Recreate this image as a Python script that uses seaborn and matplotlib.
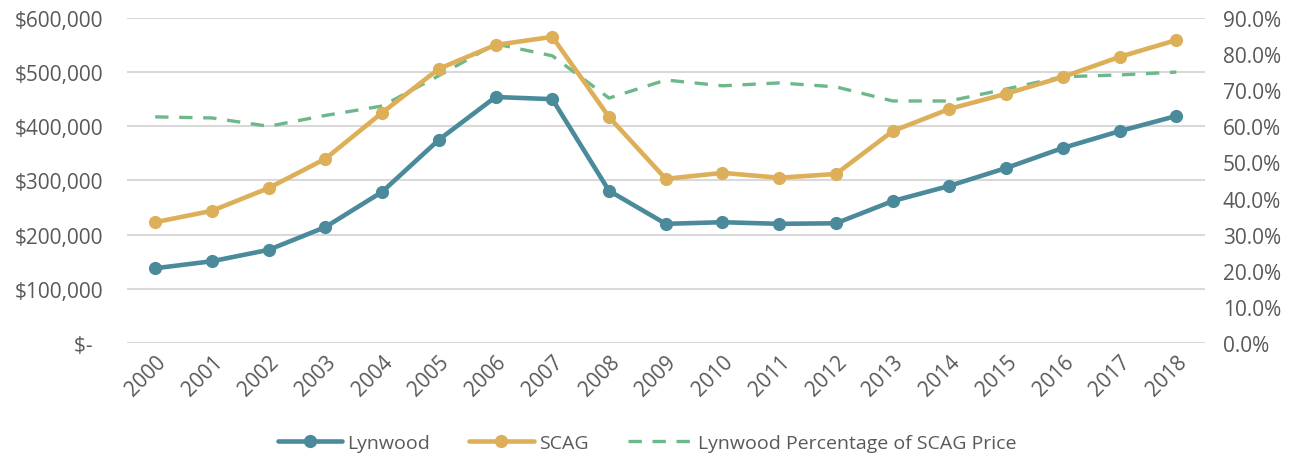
import numpy as np
import pandas as pd
import seaborn as sns
import matplotlib.pyplot as plt
from matplotlib.ticker import FuncFormatter

years = list(range(2000, 2019))
lynwood = [138000, 151000, 172000, 214000, 279000, 375000, 454000, 450000, 281000, 220000,
           223000, 220000, 221000, 262000, 290000, 323000, 360000, 391000, 419000]
scag = [223000, 244000, 286000, 340000, 425000, 506000, 550000, 565000, 417000, 303000,
        314000, 305000, 312000, 391000, 432000, 460000, 491000, 528000, 559000]
pct = [0.626, 0.623, 0.600, 0.630, 0.656, 0.740, 0.828, 0.795, 0.678, 0.728,
       0.712, 0.720, 0.709, 0.670, 0.670, 0.703, 0.737, 0.742, 0.750]

df = pd.DataFrame({"Year": years, "Lynwood": lynwood, "SCAG": scag, "Pct": pct})

sns.set_style("white")
plt.rcParams['font.family'] = ['Open Sans', 'DejaVu Sans']
txt = "#595959"

fig = plt.figure(figsize=(12.94, 4.6), dpi=100)
ax2 = fig.add_axes([0.098, 0.252, 0.833, 0.707])
ax = ax2.twinx()  # left $ axis drawn on top
ax.yaxis.tick_left()
ax2.yaxis.tick_right()

sns.lineplot(data=df, x="Year", y="Pct", ax=ax2, color="#6DB88A", linewidth=2.4,
             linestyle=(0, (4, 3.2)), label="Lynwood Percentage of SCAG Price", legend=False)
sns.lineplot(data=df, x="Year", y="Lynwood", ax=ax, color="#4A8A9A", linewidth=3.3,
             marker="o", markersize=9.5, markeredgewidth=0, label="Lynwood", legend=False)
sns.lineplot(data=df, x="Year", y="SCAG", ax=ax, color="#DDAF58", linewidth=3.3,
             marker="o", markersize=9.5, markeredgewidth=0, label="SCAG", legend=False)

ax.patch.set_visible(False)

ax2.set_xlim(1999.5, 2018.5)
ax.set_ylim(0, 600000)
ax.set_yticks(np.arange(0, 600001, 100000))
ax.yaxis.set_major_formatter(FuncFormatter(lambda v, p: "$-  " if v == 0 else f"${v:,.0f}"))
ax2.set_ylim(0, 0.9)
ax2.set_yticks(np.arange(0, 0.91, 0.1))
ax2.yaxis.set_major_formatter(FuncFormatter(lambda v, p: f"{v * 100:.1f}%"))

ax2.set_xticks(years)
ax2.set_xticklabels([str(y) for y in years], rotation=45, ha="right", rotation_mode="anchor")
for a in (ax, ax2):
    a.set_xlabel("")
    a.set_ylabel("")
    for s in a.spines.values():
        s.set_visible(False)
    a.tick_params(length=0, labelsize=15, colors=txt)

# horizontal gridlines follow the $ axis, drawn underneath everything
for v in ax.get_yticks():
    ax2.axhline(v / 600000 * 0.9, color="#D9D9D9", linewidth=1.5, zorder=0)

ax.tick_params(axis="y", pad=17)
ax2.tick_params(axis="y", pad=13)
ax2.tick_params(axis="x", pad=6)

h1, l1 = ax.get_legend_handles_labels()
h2, l2 = ax2.get_legend_handles_labels()
fig.legend(h1 + h2, l1 + l2, loc="center", bbox_to_anchor=(0.5, 0.035), ncol=3,
           frameon=False, fontsize=14, labelcolor=txt, handlelength=3.3,
           handletextpad=0.3, columnspacing=2.0)

fig.savefig("out.png", dpi=100)
